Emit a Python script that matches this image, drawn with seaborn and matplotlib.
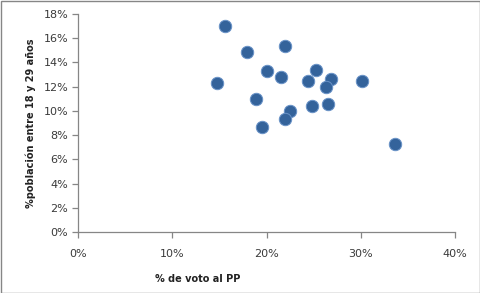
import matplotlib
matplotlib.use("Agg")
import matplotlib.pyplot as plt
import seaborn as sns
import pandas as pd
from matplotlib.ticker import PercentFormatter

sns.set_theme(style="white")
plt.rcParams['font.family'] = ['DejaVu Sans']

voto_pp = [15.6, 17.9, 21.96, 14.75, 20.05, 21.54, 25.25, 24.44, 26.84, 26.31,
           30.13, 18.89, 24.83, 26.56, 22.49, 21.96, 19.49, 33.63]
poblacion_18_29 = [16.99, 14.84, 15.33, 12.28, 13.27, 12.77, 13.4, 12.44, 12.6, 11.95,
                   12.44, 10.96, 10.38, 10.54, 9.96, 9.33, 8.67, 7.24]

df = pd.DataFrame({"x": voto_pp, "y": poblacion_18_29})

W, H = 481, 293
fig = plt.figure(figsize=(W / 100, H / 100), dpi=100)
ax = fig.add_axes([78 / W, 1 - 232 / H, (455 - 78) / W, (232 - 14) / H])

sns.scatterplot(data=df, x="x", y="y", ax=ax, s=80, color="#34639B",
                edgecolor="#6A93C8", linewidth=0.7, zorder=3, legend=False)

ax.set_xlim(0, 40)
ax.set_ylim(0, 18)
ax.set_xticks([0, 10, 20, 30, 40])
ax.set_yticks(range(0, 19, 2))
ax.xaxis.set_major_formatter(PercentFormatter(decimals=0))
ax.yaxis.set_major_formatter(PercentFormatter(decimals=0))
for s in ["top", "right"]:
    ax.spines[s].set_visible(False)
for s in ["left", "bottom"]:
    ax.spines[s].set_color("#868686")
    ax.spines[s].set_linewidth(0.9)
ax.tick_params(axis="both", which="major", direction="out", length=4, width=0.9,
               color="#868686", labelsize=8, labelcolor="#3a3a3a",
               left=True, bottom=True)
ax.tick_params(axis="x", pad=8)
ax.tick_params(axis="y", pad=3)
ax.set_xlabel("")
ax.set_ylabel("")

fig.text(155 / W, 1 - 279 / H, "% de voto al PP", fontsize=7, fontweight="bold",
         color="#222222", ha="left", va="center")
fig.text(31 / W, 1 - 123 / H, "%población entre 18 y 29 años", fontsize=7,
         fontweight="bold", color="#222222", rotation=90, ha="center", va="center")

border = plt.Rectangle((0.5 / W, 0.5 / H), 1 - 1.5 / W, 1 - 1.5 / H,
                       transform=fig.transFigure, fill=False,
                       edgecolor="#868686", linewidth=1)
fig.patches.append(border)

fig.savefig("out.png", dpi=100)
